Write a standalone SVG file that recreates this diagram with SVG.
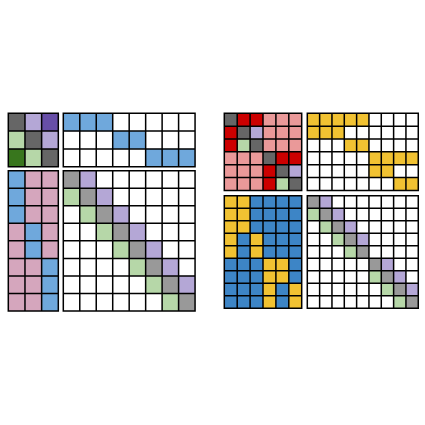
<svg xmlns="http://www.w3.org/2000/svg" width="425" height="425" viewBox="0 0 425 425">
<style>
.bg{fill:#ffffff}
.grid{fill:none;stroke:#000;stroke-width:1.5;vector-effect:non-scaling-stroke;stroke-linecap:square}
.dg{fill:#666666}.lp{fill:#b4a7d6}.dp{fill:#674ea7}.lg{fill:#b6d7a8}.dgr{fill:#38761d}
.bl{fill:#6fa8dc}.pk{fill:#d5a6bd}.gy{fill:#999999}.rd{fill:#cc0000}.lr{fill:#ea9999}
.yl{fill:#f1c232}.db{fill:#3d85c6}
</style>
<rect width="425" height="425" fill="#fff"/>
<!-- Left figure -->
<g id="L-TL" transform="translate(8.3,113.3) scale(16.67,17.8)">
<rect class="bg" width="3" height="3"/>
<rect class="dg" x="0" y="0" width="1" height="1"/><rect class="lp" x="1" y="0" width="1" height="1"/><rect class="dp" x="2" y="0" width="1" height="1"/>
<rect class="lg" x="0" y="1" width="1" height="1"/><rect class="dg" x="1" y="1" width="1" height="1"/><rect class="lp" x="2" y="1" width="1" height="1"/>
<rect class="dgr" x="0" y="2" width="1" height="1"/><rect class="lg" x="1" y="2" width="1" height="1"/><rect class="dg" x="2" y="2" width="1" height="1"/>
<path class="grid" d="M0 0V3M1 0V3M2 0V3M3 0V3M0 0H3M0 1H3M0 2H3M0 3H3"/>
</g>
<g id="L-TR" transform="translate(63.3,113.3) scale(16.47,17.8)">
<rect class="bg" width="8" height="3"/>
<rect class="bl" x="0" y="0" width="3" height="1"/><rect class="bl" x="3" y="1" width="2" height="1"/><rect class="bl" x="5" y="2" width="3" height="1"/>
<path class="grid" d="M0 0V3M1 0V3M2 0V3M3 0V3M4 0V3M5 0V3M6 0V3M7 0V3M8 0V3M0 0H8M0 1H8M0 2H8M0 3H8"/>
</g>
<g id="L-BL" transform="translate(8.3,170.7) scale(16.67,17.54)">
<rect class="pk" width="3" height="8"/>
<rect class="bl" x="0" y="0" width="1" height="3"/><rect class="bl" x="1" y="3" width="1" height="2"/><rect class="bl" x="2" y="5" width="1" height="3"/>
<path class="grid" d="M0 0V8M1 0V8M2 0V8M3 0V8M0 0H3M0 1H3M0 2H3M0 3H3M0 4H3M0 5H3M0 6H3M0 7H3M0 8H3"/>
</g>
<g id="L-BR" transform="translate(63.3,170.7) scale(16.47,17.54)">
<rect class="bg" width="8" height="8"/>
<rect class="gy" x="0" y="0" width="1" height="1"/><rect class="gy" x="1" y="1" width="1" height="1"/><rect class="gy" x="2" y="2" width="1" height="1"/><rect class="gy" x="3" y="3" width="1" height="1"/><rect class="gy" x="4" y="4" width="1" height="1"/><rect class="gy" x="5" y="5" width="1" height="1"/><rect class="gy" x="6" y="6" width="1" height="1"/><rect class="gy" x="7" y="7" width="1" height="1"/>
<rect class="lp" x="1" y="0" width="1" height="1"/><rect class="lp" x="2" y="1" width="1" height="1"/><rect class="lp" x="3" y="2" width="1" height="1"/><rect class="lp" x="4" y="3" width="1" height="1"/><rect class="lp" x="5" y="4" width="1" height="1"/><rect class="lp" x="6" y="5" width="1" height="1"/><rect class="lp" x="7" y="6" width="1" height="1"/>
<rect class="lg" x="0" y="1" width="1" height="1"/><rect class="lg" x="1" y="2" width="1" height="1"/><rect class="lg" x="2" y="3" width="1" height="1"/><rect class="lg" x="3" y="4" width="1" height="1"/><rect class="lg" x="4" y="5" width="1" height="1"/><rect class="lg" x="5" y="6" width="1" height="1"/><rect class="lg" x="6" y="7" width="1" height="1"/>
<path class="grid" d="M0 0V8M1 0V8M2 0V8M3 0V8M4 0V8M5 0V8M6 0V8M7 0V8M8 0V8M0 0H8M0 1H8M0 2H8M0 3H8M0 4H8M0 5H8M0 6H8M0 7H8M0 8H8"/>
</g>
<!-- Right figure -->
<g id="R-TL" transform="translate(224.3,113.3) scale(12.9,12.85)">
<rect class="lr" width="6" height="6"/>
<rect class="rd" x="1" y="0" width="2" height="1"/><rect class="rd" x="0" y="1" width="1" height="2"/>
<rect class="rd" x="4" y="3" width="2" height="1"/><rect class="rd" x="3" y="4" width="1" height="2"/>
<rect class="dg" x="0" y="0" width="1" height="1"/><rect class="dg" x="1" y="1" width="1" height="1"/><rect class="dg" x="2" y="2" width="1" height="1"/><rect class="dg" x="3" y="3" width="1" height="1"/><rect class="dg" x="4" y="4" width="1" height="1"/><rect class="dg" x="5" y="5" width="1" height="1"/>
<rect class="lp" x="2" y="1" width="1" height="1"/><rect class="lp" x="5" y="4" width="1" height="1"/>
<rect class="lg" x="1" y="2" width="1" height="1"/><rect class="lg" x="4" y="5" width="1" height="1"/>
<path class="grid" d="M0 0V6M1 0V6M2 0V6M3 0V6M4 0V6M5 0V6M6 0V6M0 0H6M0 1H6M0 2H6M0 3H6M0 4H6M0 5H6M0 6H6"/>
</g>
<g id="R-TR" transform="translate(307.3,113.3) scale(12.33,12.85)">
<rect class="bg" width="9" height="6"/>
<rect class="yl" x="0" y="0" width="5" height="1"/><rect class="yl" x="0" y="1" width="3" height="1"/><rect class="yl" x="3" y="2" width="2" height="1"/>
<rect class="yl" x="5" y="3" width="4" height="1"/><rect class="yl" x="5" y="4" width="2" height="1"/><rect class="yl" x="7" y="5" width="2" height="1"/>
<path class="grid" d="M0 0V6M1 0V6M2 0V6M3 0V6M4 0V6M5 0V6M6 0V6M7 0V6M8 0V6M9 0V6M0 0H9M0 1H9M0 2H9M0 3H9M0 4H9M0 5H9M0 6H9"/>
</g>
<g id="R-BL" transform="translate(224.3,195.7) scale(12.9,12.51)">
<rect class="db" width="6" height="9"/>
<rect class="yl" x="0" y="0" width="2" height="3"/><rect class="yl" x="0" y="3" width="1" height="2"/><rect class="yl" x="2" y="3" width="1" height="2"/>
<rect class="yl" x="3" y="5" width="2" height="2"/><rect class="yl" x="3" y="7" width="1" height="2"/><rect class="yl" x="5" y="7" width="1" height="2"/>
<path class="grid" d="M0 0V9M1 0V9M2 0V9M3 0V9M4 0V9M5 0V9M6 0V9M0 0H6M0 1H6M0 2H6M0 3H6M0 4H6M0 5H6M0 6H6M0 7H6M0 8H6M0 9H6"/>
</g>
<g id="R-BR" transform="translate(307.3,195.7) scale(12.33,12.51)">
<rect class="bg" width="9" height="9"/>
<rect class="gy" x="0" y="0" width="1" height="1"/><rect class="gy" x="1" y="1" width="1" height="1"/><rect class="gy" x="2" y="2" width="1" height="1"/><rect class="gy" x="3" y="3" width="1" height="1"/><rect class="gy" x="4" y="4" width="1" height="1"/><rect class="gy" x="5" y="5" width="1" height="1"/><rect class="gy" x="6" y="6" width="1" height="1"/><rect class="gy" x="7" y="7" width="1" height="1"/><rect class="gy" x="8" y="8" width="1" height="1"/>
<rect class="lp" x="1" y="0" width="1" height="1"/><rect class="lp" x="2" y="1" width="1" height="1"/><rect class="lp" x="3" y="2" width="1" height="1"/><rect class="lp" x="4" y="3" width="1" height="1"/><rect class="lp" x="6" y="5" width="1" height="1"/><rect class="lp" x="7" y="6" width="1" height="1"/><rect class="lp" x="8" y="7" width="1" height="1"/>
<rect class="lg" x="0" y="1" width="1" height="1"/><rect class="lg" x="1" y="2" width="1" height="1"/><rect class="lg" x="2" y="3" width="1" height="1"/><rect class="lg" x="3" y="4" width="1" height="1"/><rect class="lg" x="5" y="6" width="1" height="1"/><rect class="lg" x="6" y="7" width="1" height="1"/><rect class="lg" x="7" y="8" width="1" height="1"/>
<path class="grid" d="M0 0V9M1 0V9M2 0V9M3 0V9M4 0V9M5 0V9M6 0V9M7 0V9M8 0V9M9 0V9M0 0H9M0 1H9M0 2H9M0 3H9M0 4H9M0 5H9M0 6H9M0 7H9M0 8H9M0 9H9"/>
</g>
<g id="connectors"/>
</svg>
